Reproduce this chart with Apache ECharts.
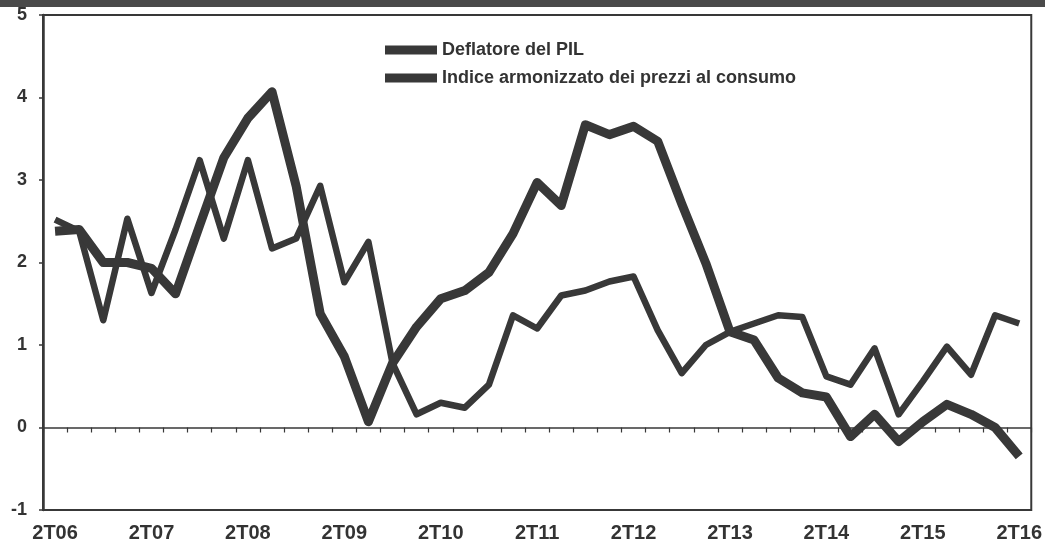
<!DOCTYPE html>
<html>
<head>
<meta charset="utf-8">
<script src="https://cdn.jsdelivr.net/npm/echarts@6/dist/echarts.min.js"></script>
<style>
  html, body { margin: 0; padding: 0; background: #fff; }
  #chart { width: 1045px; height: 549px; }
</style>
</head>
<body>
<div id="chart"></div>
<script>
// trimestri 2T06 .. 2T16
const quarters = [
  '2T06','3T06','4T06','1T07','2T07','3T07','4T07','1T08','2T08','3T08','4T08',
  '1T09','2T09','3T09','4T09','1T10','2T10','3T10','4T10','1T11','2T11','3T11',
  '4T11','1T12','2T12','3T12','4T12','1T13','2T13','3T13','4T13','1T14','2T14',
  '3T14','4T14','1T15','2T15','3T15','4T15','1T16','2T16'
];

const seriesNames = ['Deflatore del PIL', 'Indice armonizzato dei prezzi al consumo'];

const deflatorePil = [
  2.52, 2.38, 1.30, 2.53, 1.63, 2.40, 3.24, 2.29, 3.24, 2.17, 2.29,
  2.93, 1.76, 2.25, 0.78, 0.16, 0.30, 0.24, 0.52, 1.36, 1.20, 1.60,
  1.66, 1.77, 1.83, 1.18, 0.66, 1.00, 1.16, 1.26, 1.36, 1.34, 0.62,
  0.52, 0.96, 0.16, 0.56, 0.98, 0.64, 1.36, 1.26
];

const ipca = [
  2.38, 2.40, 2.00, 2.00, 1.93, 1.62, 2.45, 3.27, 3.75, 4.07, 2.93,
  1.38, 0.86, 0.07, 0.78, 1.22, 1.56, 1.66, 1.88, 2.35, 2.97, 2.69,
  3.67, 3.55, 3.65, 3.47, 2.71, 1.99, 1.16, 1.06, 0.60, 0.42, 0.37,
  -0.11, 0.16, -0.17, 0.07, 0.28, 0.16, 0.00, -0.35
];

const yTicks = { min: -1, max: 5, step: 1 };

const ink = '#383838';
const font = "'Liberation Sans', Arial, sans-serif";

let myChart = echarts.init(document.getElementById('chart'));

let option = {
  animation: false,
  textStyle: { fontFamily: font },
  graphic: [{
    type: 'rect',
    left: 0, top: 0,
    shape: { width: 1045, height: 7 },
    style: { fill: '#4a4a4a' },
    silent: true
  }],
  legend: {
    orient: 'vertical',
    left: 380,
    top: 36,
    itemWidth: 52,
    itemHeight: 9,
    itemGap: 10,
    icon: 'rect',
    data: seriesNames,
    textStyle: { fontSize: 18, fontWeight: 'bold', color: '#333', fontFamily: font }
  },
  grid: {
    left: 43,
    right: 13,
    top: 15,
    bottom: 39,
    show: true,
    borderColor: ink,
    borderWidth: 2,
    backgroundColor: 'transparent'
  },
  xAxis: [{
    type: 'category',
    data: quarters,
    boundaryGap: true,
    position: 'bottom',
    axisLine: { show: false, onZero: false },
    axisTick: { show: false },
    axisLabel: {
      interval: 3,
      margin: 13,
      fontSize: 20,
      fontWeight: 'bold',
      color: '#333',
      fontFamily: font
    },
    splitLine: { show: false }
  }, {
    type: 'category',
    data: quarters,
    boundaryGap: true,
    position: 'top',
    axisLine: { show: true, onZero: true, lineStyle: { color: ink, width: 1.5 } },
    axisTick: { show: true, inside: true, interval: 0, length: 5, lineStyle: { color: ink, width: 1.2 } },
    axisLabel: { show: false },
    splitLine: { show: false }
  }],
  yAxis: {
    type: 'value',
    min: yTicks.min,
    max: yTicks.max,
    interval: yTicks.step,
    axisLine: { show: true, onZero: false, lineStyle: { color: ink, width: 2.5 } },
    axisTick: { show: true, length: 4, lineStyle: { color: ink, width: 1.5 } },
    axisLabel: {
      margin: 16,
      fontSize: 18,
      fontWeight: 'bold',
      color: '#333',
      fontFamily: font
    },
    splitLine: { show: false }
  },
  series: [{
    name: seriesNames[0],
    type: 'line',
    xAxisIndex: 0,
    data: deflatorePil,
    symbol: 'none',
    itemStyle: { color: ink },
    lineStyle: { color: ink, width: 6.5, join: 'round' },
    z: 3
  }, {
    name: seriesNames[1],
    type: 'line',
    xAxisIndex: 0,
    data: ipca,
    symbol: 'none',
    itemStyle: { color: ink },
    lineStyle: { color: ink, width: 9, join: 'round' },
    z: 4
  }]
};

option && myChart.setOption(option);
</script>
</body>
</html>
